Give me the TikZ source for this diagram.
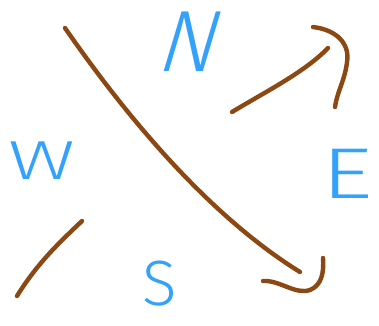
\documentclass[tikz,border=0pt]{standalone}
\usepackage{fontspec}
\newfontfamily\hand{Fira Sans Light}
\definecolor{stroke}{RGB}{139,72,18}
\definecolor{letter}{RGB}{52,162,250}
\begin{document}
\begin{tikzpicture}[x=1pt,y=-1pt,
  pen/.style={draw=stroke,line width=4.4pt,line cap=round,line join=round},
  lbl/.style={text=letter,inner sep=0pt,font=\hand}]
\useasboundingbox (0,0) rectangle (379,325);
% letters
\node[lbl,xslant=0.3] (n) at (193,42) {\fontsize{87}{87}\selectfont N};
\node[lbl,xscale=1.5] (w) at (42,161) {\fontsize{55}{55}\selectfont W};
\node[lbl,xscale=1.4] (e) at (347,174) {\fontsize{72}{72}\selectfont E};
\node[lbl] (s) at (160,284) {\fontsize{64}{64}\selectfont S};
% named points
\coordinate (d1) at (65,28);
\coordinate (d2) at (300,272);
\coordinate (a1) at (232,112);
\coordinate (a2) at (328,48);
\coordinate (h1) at (313,27);
\coordinate (hm) at (347,62);
\coordinate (h2) at (335,107);
\coordinate (b1) at (263,281);
\coordinate (bm) at (310,290);
\coordinate (b2) at (323,258);
\coordinate (l1) at (82,221);
\coordinate (l2) at (17,296);
% strokes
\draw[pen] (d1) .. controls (115,100) and (200,210) .. (d2);
\draw[pen] (a1) .. controls (265,92) and (305,72) .. (a2);
\draw[pen] (h1) .. controls (338,30) and (350,45) .. (hm) .. controls (345,80) and (337,92) .. (h2);
\draw[pen] (b1) .. controls (280,280) and (295,295) .. (bm) .. controls (322,285) and (324,272) .. (b2);
\draw[pen] (l1) .. controls (62,240) and (38,262) .. (l2);
\end{tikzpicture}
\end{document}
